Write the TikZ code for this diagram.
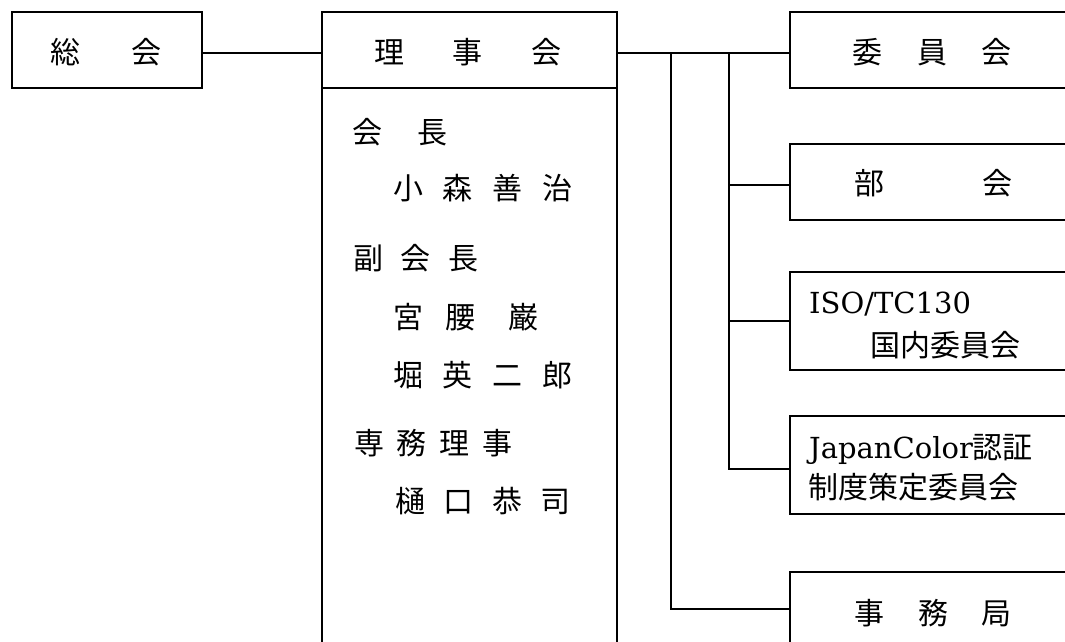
\documentclass[tikz,border=0pt]{standalone}
\usepackage{fontspec}
\newfontfamily\cjk{Noto Sans CJK JP}
\newfontfamily\latserif{DejaVu Serif}
\begin{document}
\begin{tikzpicture}[x=1pt,y=-1pt,
  box/.style={draw,line width=1.8pt,inner sep=0pt,anchor=north west},
  txt/.style={inner sep=0pt,font=\cjk\fontsize{30}{36}\selectfont},
  row/.style={txt,anchor=west},
  lat/.style={inner sep=0pt,anchor=base west,font=\latserif\fontsize{29}{36}\selectfont},
  conn/.style={line width=1.6pt}]
\useasboundingbox (0,0) rectangle (1065,641);
\clip (0,0) rectangle (1065,641);
% boxes
\node[box,minimum width=190pt,minimum height=76pt] (sokai) at (11,11) {};
\node[box,minimum width=295pt,minimum height=76pt] (rijihead) at (321,11) {};
\node[box,minimum width=295pt,minimum height=620pt] (rijibody) at (321,87) {};
\node[box,minimum width=320pt,minimum height=76pt] (iin) at (789,11) {};
\node[box,minimum width=320pt,minimum height=76pt] (bukai) at (789,143) {};
\node[box,minimum width=320pt,minimum height=98pt] (iso) at (789,271) {};
\node[box,minimum width=320pt,minimum height=98pt] (jc) at (789,415) {};
\node[box,minimum width=320pt,minimum height=74pt] (jimu) at (789,571) {};
% box texts
\node[txt] (tsokai) at (105.5,52) {総\hspace{51pt}会};
\node[txt] (triji) at (468,52) {理\hspace{49pt}事\hspace{49pt}会};
\node[txt] (tiin) at (932,52) {委\hspace{34.5pt}員\hspace{34.5pt}会};
\node[txt] (tbu) at (933,183) {部\hspace{98pt}会};
\node[lat] (tiso1) at (809,313) {ISO/TC130};
\node[row] (tiso2) at (870,345) {国内委員会};
\node[lat] (tjc1) at (809,458) {JapanColor{\cjk\fontsize{30}{36}\selectfont 認証}};
\node[row] (tjc2) at (808,487) {制度策定委員会};
\node[txt] (tjimu) at (933,613) {事\hspace{34pt}務\hspace{34pt}局};
% members
\node[row] (m1) at (352,132) {会\hspace{35pt}長};
\node[row] (m2) at (393,188) {小\hspace{19.7pt}森\hspace{19.7pt}善\hspace{19.7pt}治};
\node[row] (m3) at (353,258) {副\hspace{17.5pt}会\hspace{17.5pt}長};
\node[row] (m4) at (393,317) {宮\hspace{22pt}腰\hspace{33pt}巌};
\node[row] (m5) at (393,375) {堀\hspace{19.7pt}英\hspace{19.7pt}二\hspace{19.7pt}郎};
\node[row] (m6) at (354,443) {専\hspace{12.7pt}務\hspace{12.7pt}理\hspace{12.7pt}事};
\node[row] (m7) at (395,501) {樋\hspace{18.5pt}口\hspace{18.5pt}恭\hspace{18.5pt}司};
% connectors
\draw[conn] ([yshift=-3pt]sokai.east) -- ([yshift=-3pt]sokai.east -| rijihead.west);
\draw[conn] ([yshift=-3pt]rijihead.east) -- ([yshift=-3pt]iin.west);
\coordinate (ja) at (671,52);
\coordinate (jb) at (729,52);
\draw[conn] (ja) |- (jimu.west);
\draw[conn] (jb) |- ([yshift=-3pt]bukai.west);
\draw[conn] (jb) |- (iso.west);
\draw[conn] (jb) |- ([yshift=-4pt]jc.west);
\end{tikzpicture}
\end{document}
